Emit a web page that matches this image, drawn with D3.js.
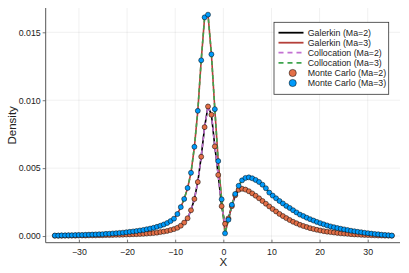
<!DOCTYPE html>
<html><head><meta charset="utf-8">
<script src="https://cdn.jsdelivr.net/npm/d3@7"></script>
<style>
body{margin:0;background:#fff;}
svg{display:block;font-family:"Liberation Sans",Arial,sans-serif;}
</style></head>
<body><svg id="c" width="409" height="273"></svg>
<script>
// x grid: 100 points from -35 to 35
const xs = d3.range(100).map(k => -35 + 70 * k / 99);

const mcMa2 = [
0.00002,0.00002,0.00002,0.00003,0.00003,0.00003,0.00003,0.00004,0.00004,0.00004,
0.00005,0.00005,0.00005,0.00006,0.00006,0.00007,0.00007,0.00008,0.00009,0.00009,
0.00010,0.00011,0.00012,0.00013,0.00014,0.00015,0.00016,0.00018,0.00020,0.00022,
0.00025,0.00029,0.00033,0.00038,0.00044,0.00051,0.00061,0.00076,0.00099,0.00131,
0.00190,0.00273,0.00398,0.00584,0.00802,0.00954,0.00893,0.00660,0.00450,0.00220,
0.00090,0.00130,0.00220,0.00300,0.00340,0.00348,0.00342,0.00330,0.00314,0.00297,
0.00278,0.00258,0.00238,0.00218,0.00199,0.00181,0.00163,0.00147,0.00132,0.00118,
0.00105,0.00094,0.00083,0.00074,0.00066,0.00058,0.00052,0.00046,0.00041,0.00036,
0.00032,0.00029,0.00026,0.00023,0.00020,0.00018,0.00016,0.00014,0.00012,0.00011,
0.00009,0.00008,0.00007,0.00006,0.00005,0.00004,0.00004,0.00003,0.00003,0.00002];

const mcMa3 = [
0.00004,0.00004,0.00005,0.00005,0.00006,0.00006,0.00007,0.00008,0.00008,0.00009,
0.00010,0.00011,0.00012,0.00013,0.00014,0.00016,0.00017,0.00019,0.00021,0.00023,
0.00025,0.00028,0.00031,0.00034,0.00037,0.00041,0.00045,0.00050,0.00055,0.00061,
0.00068,0.00076,0.00085,0.00096,0.00110,0.00128,0.00162,0.00213,0.00273,0.00354,
0.00466,0.00657,0.00922,0.01294,0.01610,0.01630,0.01338,0.00934,0.00552,0.00270,
0.00020,0.00120,0.00230,0.00310,0.00370,0.00410,0.00428,0.00432,0.00425,0.00413,
0.00398,0.00378,0.00352,0.00320,0.00298,0.00278,0.00258,0.00240,0.00222,0.00207,
0.00190,0.00174,0.00158,0.00147,0.00135,0.00124,0.00114,0.00104,0.00095,0.00086,
0.00078,0.00071,0.00065,0.00059,0.00054,0.00049,0.00044,0.00039,0.00035,0.00031,
0.00028,0.00024,0.00021,0.00018,0.00015,0.00013,0.00010,0.00008,0.00006,0.00004];

// solver curves (evaluated on the same grid)
const galerkinMa2 = mcMa2.slice();
const galerkinMa3 = mcMa3.slice();
const collocMa2 = mcMa2.slice();
const collocMa3 = mcMa3.slice();

const xTicks = [-30,-20,-10,0,10,20,30];
const xTickLabels = ["\u221230","\u221220","\u221210","0","10","20","30"];
const yTicks = [0,0.005,0.010,0.015];
const yTickLabels = ["0.000","0.005","0.010","0.015"];

const legendLabels = ["Galerkin (Ma=2)","Galerkin (Ma=3)","Collocation (Ma=2)","Collocation (Ma=3)","Monte Carlo (Ma=2)","Monte Carlo (Ma=3)"];

const C = {black:"#000000", red:"#b5403a", purple:"#c371d2", green:"#3ea44e", orange:"#e36f47", blue:"#009afa"};

const svg = d3.select("#c");
const L = 45.7, R = 400, T = 8, B = 242.7;
const x = d3.scaleLinear().domain([-36.9, 36.7]).range([L, R]);
const y = d3.scaleLinear().domain([-0.00049, 0.01679]).range([B, T]);

// grid
svg.append("g").selectAll("line").data(xTicks).join("line")
  .attr("x1", d => x(d)).attr("x2", d => x(d)).attr("y1", T).attr("y2", B)
  .attr("stroke", "#000").attr("stroke-opacity", 0.1).attr("stroke-width", 0.6);
svg.append("g").selectAll("line").data(yTicks).join("line")
  .attr("y1", d => y(d)).attr("y2", d => y(d)).attr("x1", L).attr("x2", R)
  .attr("stroke", "#000").attr("stroke-opacity", 0.1).attr("stroke-width", 0.6);

// axes
const xAxis = d3.axisBottom(x).tickValues(xTicks).tickFormat((d,i) => xTickLabels[i]).tickSizeInner(-3).tickSizeOuter(0).tickPadding(6);
const gx = svg.append("g").attr("transform", `translate(0,${B})`).call(xAxis);
const yAxis = d3.axisLeft(y).tickValues(yTicks).tickFormat((d,i) => yTickLabels[i]).tickSizeInner(3).tickSizeOuter(0).tickPadding(2);
const gy = svg.append("g").attr("transform", `translate(${L},0)`).call(yAxis);
[gx, gy].forEach(g => {
  g.select(".domain").attr("stroke", "#555").attr("stroke-width", 1);
  g.selectAll(".tick line").attr("stroke", "#555").attr("stroke-width", 0.8);
  g.selectAll(".tick text").attr("font-size", 8.8).attr("fill", "#222").attr("font-family", "Liberation Sans, Arial, sans-serif");
});
gy.select(".domain").attr("d", `M0,${B}V${T}`);
gx.select(".domain").attr("d", `M${L},0H${R}`);

svg.append("text").attr("x", x(0)).attr("y", 265.5).attr("text-anchor", "middle")
  .attr("font-size", 11.5).attr("fill", "#222").text("X");
svg.append("text").attr("transform", `translate(15.5,${(T+B)/2}) rotate(-90)`).attr("text-anchor", "middle")
  .attr("font-size", 11.5).attr("fill", "#222").text("Density");

// lines
const line = d3.line().x((d,i) => x(xs[i])).y(d => y(d));
const plotG = svg.append("g");
const series = [
  {v: galerkinMa2, c: C.black, w: 1.6, dash: null},
  {v: galerkinMa3, c: C.red, w: 1.6, dash: null},
  {v: collocMa2, c: C.purple, w: 1.6, dash: "4,3"},
  {v: collocMa3, c: C.green, w: 1.6, dash: "4,3"}
];
series.forEach(s => {
  plotG.append("path").attr("d", line(s.v)).attr("fill", "none")
    .attr("stroke", s.c).attr("stroke-width", s.w).attr("stroke-dasharray", s.dash);
});
[[mcMa2, C.orange], [mcMa3, C.blue]].forEach(([v, c]) => {
  plotG.append("g").selectAll("circle").data(v).join("circle")
    .attr("cx", (d,i) => x(xs[i])).attr("cy", d => y(d)).attr("r", 2.5)
    .attr("fill", c).attr("stroke", "#000").attr("stroke-width", 0.5);
});

// legend
const lg = svg.append("g");
lg.append("rect").attr("x", 274).attr("y", 22.3).attr("width", 114.7).attr("height", 72)
  .attr("fill", "#fff").attr("stroke", "#333").attr("stroke-width", 0.8);
const rowY = [32.7, 42.7, 52.7, 62.9, 73, 83];
series.forEach((s, i) => {
  lg.append("line").attr("x1", 278.5).attr("x2", 303.5).attr("y1", rowY[i]).attr("y2", rowY[i])
    .attr("stroke", s.c).attr("stroke-width", 1.8).attr("stroke-dasharray", s.dash ? "5,4" : null);
});
[C.orange, C.blue].forEach((c, j) => {
  lg.append("circle").attr("cx", 292.7).attr("cy", rowY[4+j]).attr("r", 3.6)
    .attr("fill", c).attr("stroke", "#000").attr("stroke-width", 0.5);
});
legendLabels.forEach((t, i) => {
  lg.append("text").attr("x", 307.7).attr("y", rowY[i]).attr("dy", "0.35em")
    .attr("font-size", 8.8).attr("fill", "#222").text(t);
});
</script></body></html>
